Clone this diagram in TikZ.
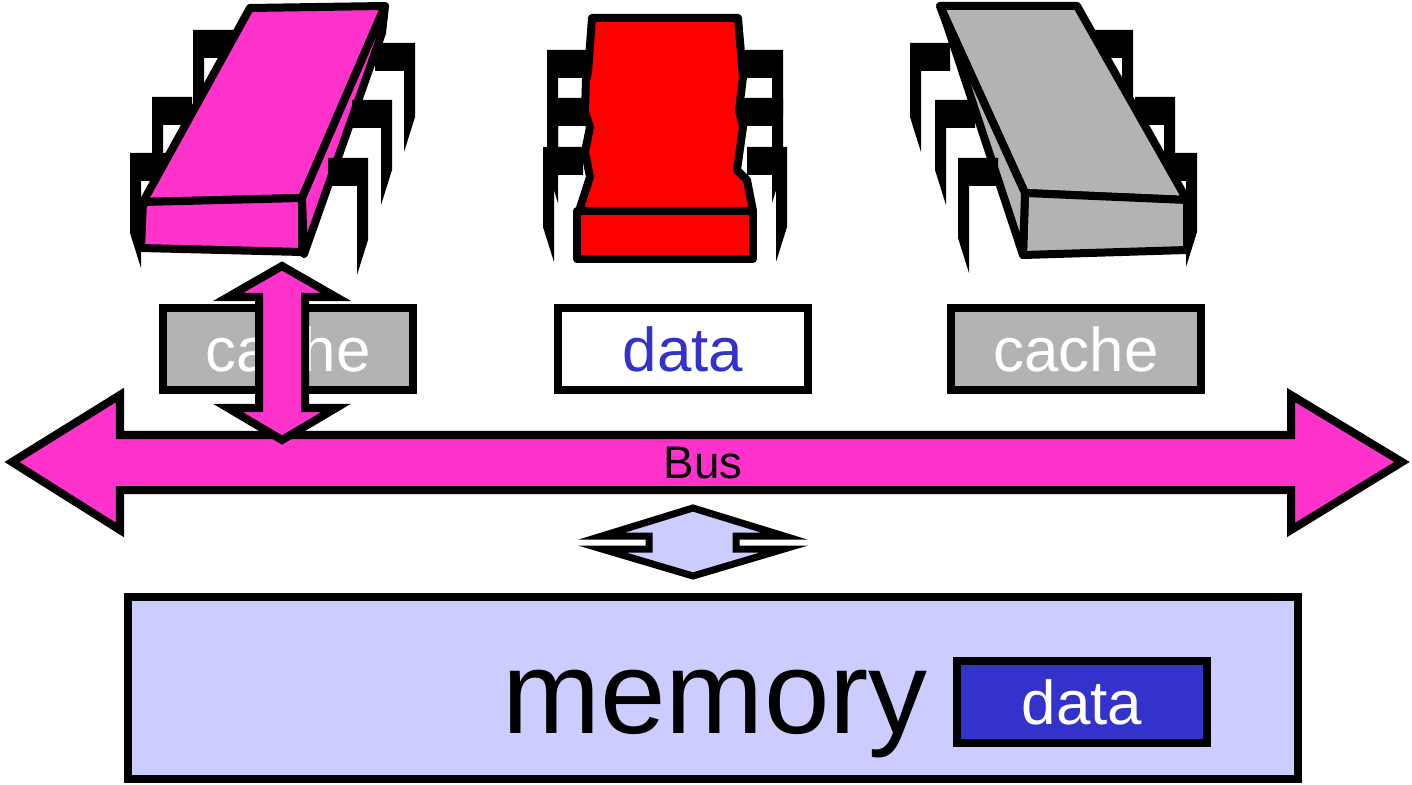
\documentclass[tikz,border=0pt]{standalone}
\usepackage{fontspec}
\setmainfont{Liberation Sans}
\usepackage{tikz}

\definecolor{chippink}{HTML}{FF33CC}
\definecolor{chipred}{HTML}{FF0000}
\definecolor{cachegray}{HTML}{B3B3B3}
\definecolor{memlilac}{HTML}{CCCCFF}
\definecolor{datablue}{HTML}{3333CC}

% one pin of a chip: bar on top, tapering stem on the outer side
\newcommand{\chipleg}[4]{%
  \fill[shift={(#1,#2)}, xscale=#4] (0,0) -- (40,0) -- (40,28) -- (11,28)
    -- (11,#3) -- (0,#3-35) -- cycle;}

\begin{document}
\begin{tikzpicture}[x=0.01cm, y=-0.01cm,
      outline/.style={draw=black, line width=0.08cm},
      chipface/.style={outline, line join=round},
      box/.style={outline, minimum width=2.5cm, minimum height=0.81cm,
                  inner sep=0pt, font=\fontsize{17.6}{20}\selectfont},
      blockarrow/.style={outline, fill=chippink}]
    \useasboundingbox (0,0) rectangle (1412,785);

    % pins behind the bodies
    \chipleg{193}{30}{120}{1}
    \chipleg{152}{97}{113}{1}
    \chipleg{130}{153}{115}{1}
    \chipleg{547}{50}{100}{1}
    \chipleg{547}{98}{105}{1}
    \chipleg{543}{147}{115}{1}
    \chipleg{783}{50}{100}{-1}
    \chipleg{783}{98}{105}{-1}
    \chipleg{787}{147}{115}{-1}
    \chipleg{1133}{30}{110}{-1}
    \chipleg{1175}{97}{105}{-1}
    \chipleg{1197}{153}{114}{-1}

    % chip bodies
    \draw[chipface, fill=chippink] (250,8) -- (385,6) -- (302,198) -- (143,202) -- cycle;
    \draw[chipface, fill=chippink] (143,202) -- (302,198) -- (302,252) -- (141,248) -- cycle;
    \draw[chipface, fill=chippink] (385,6) -- (382,33) -- (304,254) -- (302,198) -- cycle;

    \draw[chipface, fill=chipred] (592,18) -- (588,72) -- (586,80) -- (585,112) -- (590,127)
      -- (585,152) -- (590,177) -- (579,211) -- (753,211) -- (747,180) -- (737,170)
      -- (743,127) -- (739,110) -- (743,77) -- (738,18) -- cycle;
    \draw[chipface, fill=chipred] (577,211) rectangle (753,259);

    \draw[chipface, fill=cachegray] (940,6) -- (1077,6) -- (1187,200) -- (1025,193) -- cycle;
    \draw[chipface, fill=cachegray] (1025,193) -- (1187,200) -- (1187,250) -- (1023,255) -- cycle;
    \draw[chipface, fill=cachegray] (940,6) -- (1025,193) -- (1023,255) -- (947,25) -- cycle;

    % pins in front of the side faces
    \chipleg{415}{43}{109}{-1}
    \chipleg{392}{100}{105}{-1}
    \chipleg{368}{158}{117}{-1}
    \chipleg{910}{43}{109}{1}
    \chipleg{935}{100}{105}{1}
    \chipleg{958}{158}{115}{1}

    \node[box, fill=cachegray, text=white] (cacheA) at (288,349) {cache};
    \node[box, fill=white, text=datablue] (cacheB) at (683,349) {data};
    \node[box, fill=cachegray, text=white] (cacheC) at (1076,349) {cache};

    % bus
    \draw[blockarrow] (12,462) -- (120,395) -- (120,435) -- (1291,435) -- (1291,395)
      -- (1402,462) -- (1291,530) -- (1291,490) -- (120,490) -- (120,530) -- cycle;
    \node[font=\fontsize{13}{15}\selectfont] (bus) at (703,463) {Bus};

    \draw[blockarrow] (282,266) -- (336,297) -- (305,297) -- (305,408) -- (336,408)
      -- (282,440) -- (228,408) -- (259,408) -- (259,297) -- (228,297) -- cycle;

    \draw[outline, line width=0.07cm, fill=memlilac] (693,508) -- (784,536) -- (736,536)
      -- (736,549) -- (784,549) -- (693,576) -- (602,549) -- (649,549) -- (649,536)
      -- (602,536) -- cycle;

    % memory
    \node[outline, fill=memlilac, minimum width=11.7cm, minimum height=1.82cm,
          inner sep=0pt] (memory) at (713,688) {};
    \node[anchor=base, font=\fontsize{33.5}{40}\selectfont] (memtext) at (715,733) {memory};
    \node[box, fill=datablue, text=white] (memdata) at (1082,702) {data};
  \end{tikzpicture}
\end{document}
